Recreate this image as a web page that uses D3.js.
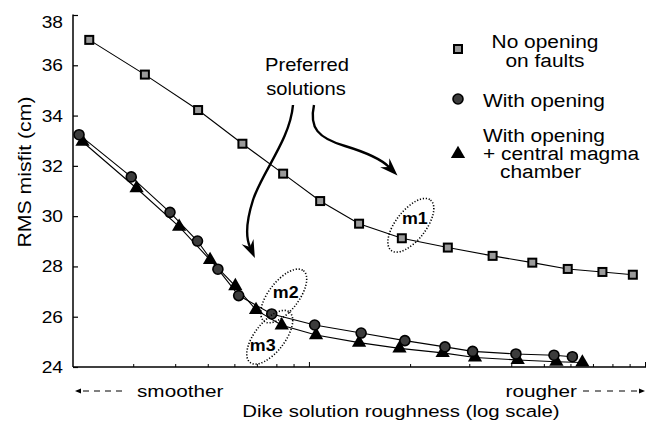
<!DOCTYPE html>
<html><head><meta charset="utf-8">
<script src="https://cdn.jsdelivr.net/npm/d3@7"></script>
<style>body{margin:0;background:#fff} svg{display:block}</style>
</head><body><svg id="c" width="653" height="427"></svg>
<script>
// ---- data ----
const yTicks = [24, 26, 28, 30, 32, 34, 36, 38];
const xTicks = [3, 4, 5, 6, 7, 8, 9, 10, 20, 30, 40, 50, 60, 70, 80, 90, 100];
const xMajor = [10, 100];

const noOpenX = [2.22, 3.25, 4.68, 6.34, 8.38, 10.8, 14.1, 18.9, 25.9, 35.2, 46.2, 58.9, 74.7, 92.0];
const noOpenY = [37.01, 35.63, 34.22, 32.88, 31.69, 30.60, 29.70, 29.12, 28.75, 28.42, 28.15, 27.90, 27.78, 27.67];

const openX = [2.07, 2.96, 3.86, 4.66, 5.36, 6.18, 7.75, 10.4, 14.3, 19.3, 25.4, 30.7, 41.3, 53.6, 60.8];
const openY = [33.24, 31.56, 30.15, 29.01, 27.89, 26.84, 26.11, 25.67, 25.35, 25.05, 24.80, 24.62, 24.52, 24.47, 24.41];

const chamberX = [2.12, 3.07, 4.11, 5.08, 6.04, 6.96, 8.30, 10.5, 14.1, 18.6, 25.0, 31.2, 41.8, 54.5, 65.1];
const chamberY = [32.96, 31.11, 29.58, 28.26, 27.22, 26.27, 25.66, 25.27, 24.97, 24.74, 24.56, 24.38, 24.28, 24.21, 24.18];

const legendLabels = ["No opening", "on faults", "With opening", "With opening", "+ central magma", "chamber"];
const modelLabels = ["m1", "m2", "m3"];
const modelIndex = [7, 6, 6]; // preferred solution index in each series

// ---- setup ----
const svg = d3.select('#c');
const FONT = "'Liberation Sans', Arial, Helvetica, sans-serif";
const x = d3.scaleLog().domain([1.986, 100]).range([73, 645]);
const y = d3.scaleLinear().domain([24, 38]).range([367, 15]);

function txt(x0, y0, s, o = {}) {
  const g = svg.append('g').attr('transform',
    `translate(${x0},${y0})${o.rot ? ` rotate(${o.rot})` : ''} scale(${o.sx || 1},1)`);
  g.append('text').attr('font-family', FONT).attr('font-size', o.size || 16)
    .attr('font-weight', o.weight || 'normal').attr('text-anchor', o.anchor || 'start')
    .attr('fill', '#000').text(s);
  return g;
}

// ---- axes ----
const yAxis = d3.axisLeft(y).tickValues(yTicks).tickSizeInner(-5).tickSizeOuter(0).tickPadding(10).tickFormat(d3.format('d'));
const gy = svg.append('g').attr('transform', 'translate(73,0)').call(yAxis);
gy.select('.domain').attr('stroke-width', 1.5).attr('d', `M0,${y(38) - 0.5}V${y(24)}`);
gy.selectAll('.tick line').attr('stroke-width', 1.2);
gy.selectAll('.tick text').each(function (d) {
  d3.select(this).attr('x', 0).attr('dy', null)
    .attr('transform', `translate(-10,${d === 38 ? 12 : 5.5}) scale(1.2,1)`)
    .attr('font-family', FONT).attr('font-size', 16).attr('fill', '#000');
});
gy.attr('font-family', FONT).attr('font-size', 16);

const xAxis = d3.axisBottom(x).tickValues(xTicks).tickSizeInner(-3).tickSizeOuter(0).tickFormat('');
const gx = svg.append('g').attr('transform', `translate(0,${y(24)})`).call(xAxis);
gx.select('.domain').attr('stroke-width', 1.5).attr('d', `M${x.range()[0]},0H${x.range()[1] + 1}`);
gx.selectAll('.tick line').attr('stroke-width', 1).attr('y2', d => xMajor.includes(d) ? -5 : -3);

// ---- series ----
const line = d3.line().x(d => x(d[0])).y(d => y(d[1]));
const sq = d3.zip(noOpenX, noOpenY);
const ci = d3.zip(openX, openY);
const tr = d3.zip(chamberX, chamberY);

[sq, tr, ci].forEach(s => svg.append('path').attr('d', line(s)).attr('fill', 'none').attr('stroke', '#000').attr('stroke-width', 1.1));

svg.append('g').selectAll('rect').data(sq).join('rect')
  .attr('x', d => x(d[0]) - 4).attr('y', d => y(d[1]) - 4).attr('width', 8).attr('height', 8)
  .attr('fill', '#9a9a9a').attr('stroke', '#000').attr('stroke-width', 2);

const triSym = d3.symbol().type(d3.symbolTriangle).size(88);
svg.append('g').selectAll('path').data(tr).join('path')
  .attr('d', triSym).attr('transform', d => `translate(${x(d[0])},${y(d[1])})`).attr('fill', '#000');

svg.append('g').selectAll('circle').data(ci).join('circle')
  .attr('cx', d => x(d[0])).attr('cy', d => y(d[1])).attr('r', 5)
  .attr('fill', '#3c3c3c').attr('stroke', '#000').attr('stroke-width', 1.6);

// ---- ellipses for preferred models ----
const series = [sq, ci, tr];
const ellOff = [[9, -13], [12, -18], [-12, 12]];
const lblOff = [[13, -14], [14, -16], [-19, 26]];
series.forEach((s, i) => {
  const p = s[modelIndex[i]];
  const cx = x(p[0]) + ellOff[i][0], cy = y(p[1]) + ellOff[i][1];
  svg.append('ellipse').attr('cx', 0).attr('cy', 0).attr('rx', 32).attr('ry', 15)
    .attr('transform', `translate(${cx},${cy}) rotate(-52)`)
    .attr('fill', 'none').attr('stroke', '#000').attr('stroke-width', 1.6).attr('stroke-dasharray', '1.2,1.8');
  txt(x(p[0]) + lblOff[i][0], y(p[1]) + lblOff[i][1], modelLabels[i], { size: 17, weight: 'bold', anchor: 'middle', sx: 1.05 });
});

// ---- annotation arrows ----
function arrow(d, end, ctrl) {
  svg.append('path').attr('d', d).attr('fill', 'none').attr('stroke', '#000').attr('stroke-width', 2.4);
  const dx = end[0] - ctrl[0], dy = end[1] - ctrl[1], L = Math.hypot(dx, dy);
  const u = [dx / L, dy / L], n = [-u[1], u[0]];
  const len = 18, w = 6.5, notch = 6;
  const tip = [end[0] + u[0] * (len - notch), end[1] + u[1] * (len - notch)];
  const b1 = [tip[0] - u[0] * len + n[0] * w, tip[1] - u[1] * len + n[1] * w];
  const b2 = [tip[0] - u[0] * len - n[0] * w, tip[1] - u[1] * len - n[1] * w];
  svg.append('path').attr('d', `M${tip}L${b1}L${end}L${b2}Z`).attr('fill', '#000');
}
arrow('M293,105 C290,140 262,172 253,200 C246,222 246,238 250,247', [250, 247], [246, 238]);
arrow('M314,105 C309,128 318,138 345,146 C368,153 382,160 389,167', [389, 167], [382, 160]);

txt(307, 71, 'Preferred', { size: 18, anchor: 'middle', sx: 1.12 });
txt(306, 95, 'solutions', { size: 18, anchor: 'middle', sx: 1.12 });

// ---- legend ----
svg.append('rect').attr('x', 454).attr('y', 45).attr('width', 8).attr('height', 8)
  .attr('fill', '#9a9a9a').attr('stroke', '#000').attr('stroke-width', 2);
svg.append('circle').attr('cx', 458).attr('cy', 99).attr('r', 5)
  .attr('fill', '#3c3c3c').attr('stroke', '#000').attr('stroke-width', 1.6);
svg.append('path').attr('d', triSym()).attr('transform', 'translate(458,154)').attr('fill', '#000');
txt(545, 48, legendLabels[0], { size: 19, anchor: 'middle', sx: 1.1 });
txt(545, 67, legendLabels[1], { size: 19, anchor: 'middle', sx: 1.1 });
txt(483, 107, legendLabels[2], { size: 19, sx: 1.1 });
txt(483, 142, legendLabels[3], { size: 19, sx: 1.1 });
txt(483, 160, legendLabels[4], { size: 19, sx: 1.1 });
txt(500, 178, legendLabels[5], { size: 19, sx: 1.1 });

// ---- axis titles ----
txt(31, 172, 'RMS misfit (cm)', { size: 18, anchor: 'middle', rot: -90, sx: 1.18 });
txt(137, 397, 'smoother', { size: 17, sx: 1.22 });
txt(577, 397, 'rougher', { size: 17, anchor: 'end', sx: 1.22 });
txt(401, 417, 'Dike solution roughness (log scale)', { size: 17, anchor: 'middle', sx: 1.2 });

// dashed direction arrows
svg.append('path').attr('d', 'M122,391H80').attr('stroke', '#000').attr('stroke-width', 1).attr('stroke-dasharray', '6,5');
svg.append('path').attr('d', 'M75,391L81,388.5L81,393.5Z').attr('fill', '#000');
svg.append('path').attr('d', 'M583,391H640').attr('stroke', '#000').attr('stroke-width', 1).attr('stroke-dasharray', '6,6');
svg.append('path').attr('d', 'M645,391L639,388.5L639,393.5Z').attr('fill', '#000');
</script>
</body></html>
